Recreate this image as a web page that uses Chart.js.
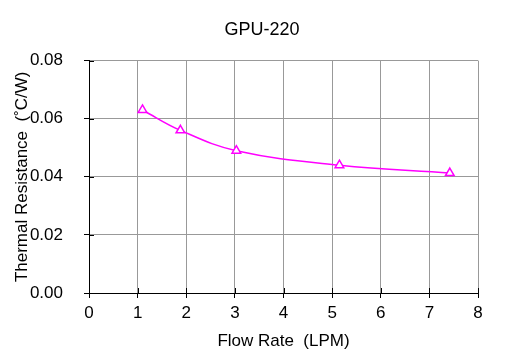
<!DOCTYPE html>
<html lang="en">
<head>
  <meta charset="UTF-8">
  <title>GPU-220</title>
  <script src="https://cdn.jsdelivr.net/npm/chart.js"></script>
  <style>
    body {
      margin: 0;
      background-color: white;
    }
  </style>
</head>
<body>
  <canvas id="gpuChart" width="513" height="359"></canvas>

  <script>
    const flowRate = [1.1, 1.88, 3.03, 5.15, 7.42];
    const thermalRes = [0.063, 0.056, 0.049, 0.044, 0.0413];
    const xTicks = [0, 1, 2, 3, 4, 5, 6, 7, 8];
    const yTicks = [0, 0.02, 0.04, 0.06, 0.08];

    const fontFamily = '"Liberation Sans", Arial, sans-serif';

    // small ticks that reach into the plot, like the outward ones
    const innerTicks = {
      id: 'innerTicks',
      afterDraw(chart) {
        const c = chart.ctx;
        const area = chart.chartArea;
        const xs = chart.scales.x;
        const ys = chart.scales.y;
        c.save();
        c.strokeStyle = '#000';
        c.lineWidth = 1;
        c.beginPath();
        xTicks.forEach(v => {
          const px = Math.round(xs.getPixelForValue(v)) + 0.5;
          c.moveTo(px, area.bottom);
          c.lineTo(px, area.bottom - 5);
        });
        yTicks.forEach(v => {
          const py = Math.round(ys.getPixelForValue(v)) + 0.5;
          c.moveTo(area.left, py);
          c.lineTo(area.left + 5, py);
        });
        c.stroke();
        c.restore();
      }
    };

    const ctx = document.getElementById('gpuChart').getContext('2d');
    new Chart(ctx, {
      type: 'scatter',
      data: {
        datasets: [{
          label: 'GPU-220',
          data: flowRate.map((x, i) => ({ x: x, y: thermalRes[i] })),
          showLine: true,
          tension: 0.4,
          borderColor: '#FF00FF',
          borderWidth: 1.5,
          pointStyle: 'triangle',
          pointRadius: 5,
          pointBorderWidth: 1.5,
          pointBackgroundColor: 'white',
          pointBorderColor: '#FF00FF'
        }]
      },
      options: {
        responsive: false,
        animation: false,
        layout: {
          padding: { left: 11, right: 0, top: 0, bottom: 0 }
        },
        plugins: {
          legend: { display: false },
          tooltip: { enabled: false },
          title: {
            display: true,
            text: 'GPU-220',
            color: '#000',
            font: { family: fontFamily, size: 18, weight: 'normal' },
            padding: { top: 19, bottom: 20 }
          }
        },
        scales: {
          x: {
            type: 'linear',
            min: 0,
            max: 8,
            afterFit(scale) { scale.height = 66; },
            afterBuildTicks(scale) { scale.ticks = xTicks.map(v => ({ value: v })); },
            ticks: {
              color: '#000',
              padding: 5,
              font: { family: fontFamily, size: 17 }
            },
            grid: { color: '#999', tickColor: '#000', tickLength: 5 },
            border: { color: '#000', width: 1 },
            title: {
              display: true,
              text: 'Flow Rate  (LPM)',
              color: '#000',
              font: { family: fontFamily, size: 17 },
              padding: { top: 0, bottom: 7 }
            }
          },
          y: {
            min: 0,
            max: 0.08,
            afterFit(scale) { scale.width = 78; },
            afterBuildTicks(scale) { scale.ticks = yTicks.map(v => ({ value: v })); },
            ticks: {
              color: '#000',
              padding: 21,
              font: { family: fontFamily, size: 17 },
              callback: v => v.toFixed(2)
            },
            grid: { color: '#999', tickColor: '#000', tickLength: 5 },
            border: { color: '#000', width: 1 },
            title: {
              display: true,
              text: 'Thermal Resistance  (˚C/W)',
              color: '#000',
              font: { family: fontFamily, size: 17 },
              padding: { top: 1, bottom: 0 }
            }
          },
          // empty strip on the right, keeps the title where the original has it
          yRight: {
            position: 'right',
            min: 0,
            max: 1,
            afterFit(scale) { scale.width = 35; },
            ticks: { display: false },
            grid: { display: false },
            border: { display: false }
          }
        }
      },
      plugins: [innerTicks]
    });
  </script>
</body>
</html>
